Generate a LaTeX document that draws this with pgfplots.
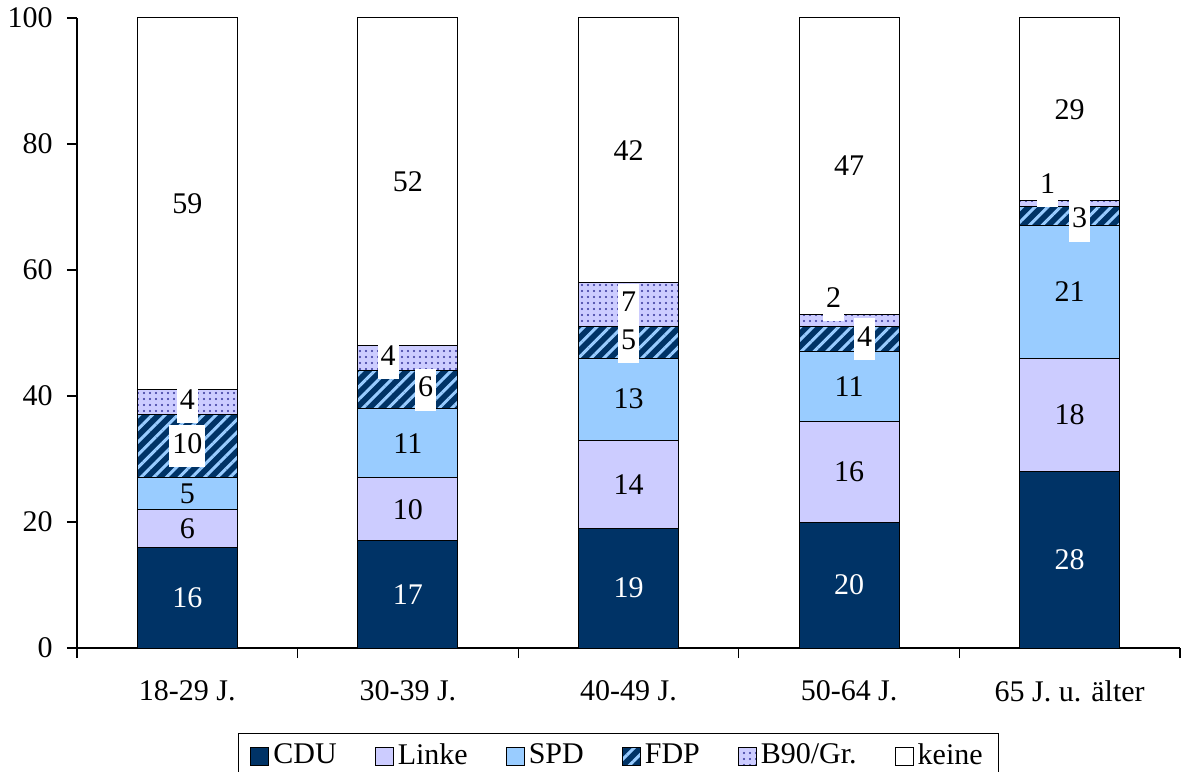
\documentclass[border=0pt]{standalone}
\usepackage{fontspec}
\setmainfont{Liberation Serif}
\usepackage{pgfplots}
\pgfplotsset{compat=1.18}
\usetikzlibrary{patterns.meta}

\definecolor{cdu}{HTML}{003366}
\definecolor{linke}{HTML}{CCCCFF}
\definecolor{spd}{HTML}{99CCFF}
\definecolor{dotc}{HTML}{333399}

\pgfplotsset{
  base/.style={
    at={(0,0)}, anchor=south west, scale only axis,
    width=551.5pt, height=315pt,
    xmin=-0.5, xmax=4.5, ymin=0, ymax=100,
  },
  lg/.style={legend image code/.code={\draw[##1, line width=0.5pt] (0pt,-4.5pt) rectangle (9pt,4.5pt);}},
}

\begin{document}
\fontsize{15}{18}\selectfont
\begin{tikzpicture}
\useasboundingbox (-38.5pt,-61.5pt) rectangle (552pt,324pt);
\begin{axis}[base,
  ybar stacked, bar width=50pt,
  axis lines=left, axis line style={-, line width=0.6pt},
  xtick={0,...,4},
  xticklabels={18-29 J., 30-39 J., 40-49 J., 50-64 J., 65 J. u. älter},
  major x tick style={draw=none},
  minor xtick={-0.5,0.5,...,4.5},
  ytick={0,20,...,100},
  tick align=outside, tick style={black, line width=0.6pt},
  major tick length=5pt, minor tick length=5pt,
  /pgf/number format/assume math mode=true,
  xticklabel style={yshift=-6pt},
  yticklabel style={xshift=-2pt},
  legend columns=-1,
  legend style={at={(0.491,0)}, anchor=north, yshift=-42.5pt,
    draw=black, line width=0.6pt, inner xsep=6pt, inner ysep=2.5pt,
    /tikz/every odd column/.append style={column sep=0pt},
    /tikz/every even column/.append style={column sep=17pt},
    nodes={inner xsep=2pt, inner ysep=2.5pt}},
  every axis plot/.append style={draw=black, line width=0.5pt},
]
\addplot[lg, fill=cdu] coordinates {(0,16) (1,17) (2,19) (3,20) (4,28)};
\addplot[lg, fill=linke] coordinates {(0,6) (1,10) (2,14) (3,16) (4,18)};
\addplot[lg, fill=spd] coordinates {(0,5) (1,11) (2,13) (3,11) (4,21)};
\addplot[lg, fill=cdu, postaction={pattern={Lines[angle=45,distance=4.5pt,line width=1.5pt]}, pattern color=spd}] coordinates {(0,10) (1,6) (2,5) (3,4) (4,3)};
\addplot[lg, fill=linke, postaction={pattern={Dots[distance=3pt,radius=0.6pt]}, pattern color=dotc}] coordinates {(0,4) (1,4) (2,7) (3,2) (4,1)};
\addplot[lg, fill=white] coordinates {(0,59) (1,52) (2,42) (3,47) (4,29)};
\legend{CDU, Linke, SPD, FDP, B90/Gr., keine}
\end{axis}
\begin{axis}[base, hide axis, nodes near coords, point meta=explicit symbolic,
  nodes near coords style={anchor=center, inner sep=2pt, font=\fontsize{15}{18}\selectfont}]
\addplot[only marks, mark=none, nodes near coords style={text=white}] coordinates {
  (0,8)[16] (1,8.5)[17] (2,9.5)[19] (3,10)[20] (4,14)[28]};
\addplot[only marks, mark=none] coordinates {
  (0,19)[6] (0,24.5)[5] (0,70.5)[59]
  (1,22)[10] (1,32.5)[11] (1,74)[52]
  (2,26)[14] (2,39.5)[13] (2,79)[42]
  (3,28)[16] (3,41.5)[11] (3,76.5)[47]
  (4,37)[18] (4,56.5)[21] (4,85.5)[29]};
\addplot[only marks, mark=none, nodes near coords style={fill=white, inner xsep=1.5pt, inner ysep=4pt, text height=10pt, text depth=3pt}] coordinates {
  (0,32)[10] (0,39)[4]
  (1.08,41)[6] (0.91,46)[4]
  (2,48.5)[5] (2,54.5)[7]
  (3.07,49)[4] (2.93,55.2)[2]
  (4.045,67.8)[3] (3.9,73.3)[1]};
\end{axis}
\end{tikzpicture}
\end{document}
